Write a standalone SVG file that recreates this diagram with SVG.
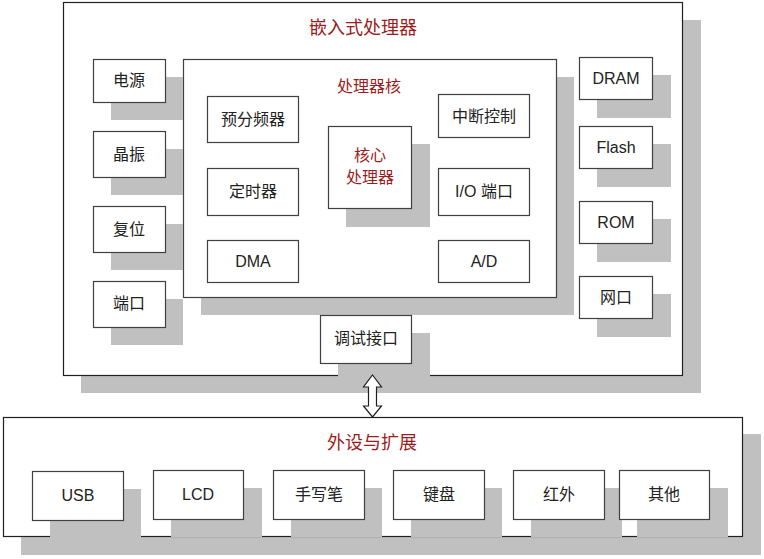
<svg xmlns="http://www.w3.org/2000/svg" width="764" height="559" viewBox="0 0 764 559">
<style>
.sh{fill:#c0c0c0;stroke:none}
.bx{fill:#fff;stroke:#404040;stroke-width:1.2}
.ob{fill:#fff;stroke:#202020;stroke-width:1.2}
.t{font-family:"Noto Sans CJK SC","Liberation Sans",sans-serif;font-size:16px;fill:#222;text-anchor:middle}
.l{font-family:"Liberation Sans","Noto Sans CJK SC",sans-serif;font-size:16px;fill:#222;text-anchor:middle}
.r{font-family:"Noto Sans CJK SC",sans-serif;fill:#9b1c1c;text-anchor:middle}
</style>
<rect width="764" height="559" fill="#fff"/>
<g id="embedded">
<rect class="sh" x="81" y="20" width="620" height="373"/>
<rect class="ob" x="63.5" y="2.5" width="619" height="373"/>
<text class="r" x="363" y="34" font-size="18">嵌入式处理器</text>
</g>
<g id="core-group">
<rect class="sh" x="201" y="77" width="373" height="238"/>
<rect class="bx" x="183.5" y="59.5" width="373" height="238"/>
<text class="r" x="369" y="92" font-size="16">处理器核</text>
</g>
<g id="power"><rect class="sh" x="111" y="77" width="72" height="43"/><rect class="bx" x="93.5" y="59.5" width="72" height="43"/><text class="t" x="129" y="86">电源</text></g>
<g id="crystal"><rect class="sh" x="111" y="149" width="72" height="46"/><rect class="bx" x="93.5" y="131.5" width="72" height="46"/><text class="t" x="129" y="160">晶振</text></g>
<g id="reset"><rect class="sh" x="111" y="224" width="72" height="46"/><rect class="bx" x="93.5" y="206.5" width="72" height="46"/><text class="t" x="129" y="235">复位</text></g>
<g id="port"><rect class="sh" x="111" y="299" width="72" height="46"/><rect class="bx" x="93.5" y="281.5" width="72" height="46"/><text class="t" x="129" y="309">端口</text></g>
<g id="prescaler"><rect class="bx" x="207.5" y="96.5" width="91" height="46"/><text class="t" x="253" y="125">预分频器</text></g>
<g id="timer"><rect class="bx" x="207.5" y="168.5" width="91" height="47"/><text class="t" x="253" y="197">定时器</text></g>
<g id="dma"><rect class="bx" x="207.5" y="240.5" width="91" height="42"/><text class="l" x="253" y="267">DMA</text></g>
<g id="cpu"><rect class="sh" x="346" y="144" width="84" height="83"/><rect class="bx" x="328.5" y="126.5" width="83" height="82"/><text class="r" x="370" y="161" font-size="16">核心</text><text class="r" x="370" y="183" font-size="16">处理器</text></g>
<g id="interrupt"><rect class="bx" x="438.5" y="94.5" width="91" height="43"/><text class="t" x="484" y="122">中断控制</text></g>
<g id="io"><rect class="bx" x="438.5" y="168.5" width="91" height="47"/><text class="l" x="484" y="197">I/O <tspan font-family="Noto Sans CJK SC">端口</tspan></text></g>
<g id="ad"><rect class="bx" x="438.5" y="240.5" width="91" height="42"/><text class="l" x="484" y="267">A/D</text></g>
<g id="dram"><rect class="sh" x="597" y="75" width="74" height="43"/><rect class="bx" x="579.5" y="57.5" width="73" height="42"/><text class="l" x="616" y="84">DRAM</text></g>
<g id="flash"><rect class="sh" x="597" y="144" width="74" height="43"/><rect class="bx" x="579.5" y="126.5" width="73" height="42"/><text class="l" x="616" y="153">Flash</text></g>
<g id="rom"><rect class="sh" x="597" y="219" width="74" height="43"/><rect class="bx" x="579.5" y="201.5" width="73" height="42"/><text class="l" x="616" y="228">ROM</text></g>
<g id="net"><rect class="sh" x="597" y="294" width="74" height="43"/><rect class="bx" x="579.5" y="276.5" width="73" height="42"/><text class="t" x="616" y="303">网口</text></g>
<g id="debug"><rect class="sh" x="338" y="333" width="92" height="48"/><rect class="bx" x="320.5" y="315.5" width="91" height="48"/><text class="t" x="366" y="344">调试接口</text></g>
<g id="connectors">
<path d="M372.5,375 L381.5,387 L376.5,387 L376.5,406 L381.5,406 L372.5,417 L363.5,406 L368.5,406 L368.5,387 L363.5,387 Z" fill="#fff" stroke="#202020" stroke-width="1.2"/>
</g>
<g id="peripherals">
<rect class="sh" x="21" y="434" width="740" height="121"/>
<rect class="ob" x="3.5" y="417.5" width="739" height="119"/>
<text class="r" x="372" y="449" font-size="18">外设与扩展</text>
</g>
<g id="usb"><rect class="sh" x="50" y="489" width="91" height="49"/><rect class="bx" x="32.5" y="471.5" width="91" height="49"/><text class="l" x="78" y="501">USB</text></g>
<g id="lcd"><rect class="sh" x="171" y="488" width="91" height="49"/><rect class="bx" x="153.5" y="470.5" width="90" height="49"/><text class="l" x="198" y="500">LCD</text></g>
<g id="pen"><rect class="sh" x="291" y="488" width="91" height="49"/><rect class="bx" x="273.5" y="470.5" width="91" height="49"/><text class="t" x="319" y="500">手写笔</text></g>
<g id="keyboard"><rect class="sh" x="411" y="488" width="91" height="49"/><rect class="bx" x="393.5" y="470.5" width="91" height="49"/><text class="t" x="439" y="500">键盘</text></g>
<g id="infrared"><rect class="sh" x="531" y="488" width="91" height="49"/><rect class="bx" x="513.5" y="470.5" width="91" height="49"/><text class="t" x="559" y="500">红外</text></g>
<g id="other"><rect class="sh" x="637" y="488" width="91" height="49"/><rect class="bx" x="619.5" y="470.5" width="90" height="49"/><text class="t" x="664" y="500">其他</text></g>
</svg>
